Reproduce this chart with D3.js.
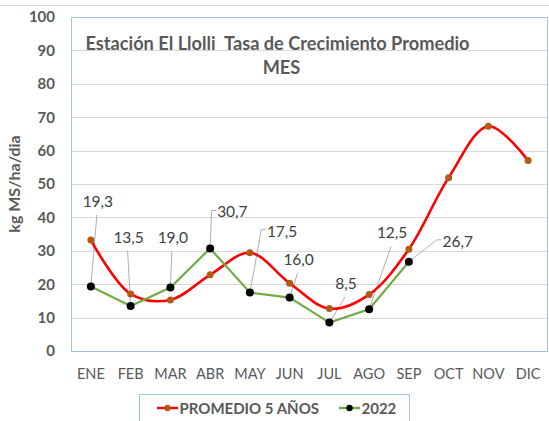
<!DOCTYPE html>
<html>
<head>
<meta charset="utf-8">
<script src="https://cdn.jsdelivr.net/npm/d3@7"></script>
<style>
  body { margin: 0; background: #fff; }
  svg text { font-family: Lato, "Open Sans", sans-serif; }
</style>
</head>
<body>
<div id="chart"></div>
<script>
// datos
var meses = ["ENE", "FEB", "MAR", "ABR", "MAY", "JUN", "JUL", "AGO", "SEP", "OCT", "NOV", "DIC"];
var promedio5 = [33.2, 17.1, 15.3, 22.8, 29.4, 20.3, 12.7, 16.9, 30.5, 51.9, 67.3, 57.0];
var serie2022 = [19.3, 13.5, 19.0, 30.7, 17.5, 16.0, 8.5, 12.5, 26.7];
var etiquetas2022 = ["19,3", "13,5", "19,0", "30,7", "17,5", "16,0", "8,5", "12,5", "26,7"];
var yTicks = [0, 10, 20, 30, 40, 50, 60, 70, 80, 90, 100];

// posicion de las etiquetas respecto al punto: [dx, dy, anclaje, codo]
// codo = true -> la guia llega por la izquierda del texto
var etqPos = [
    [7, -79.5, "middle", false],
    [-2, -63, "middle", false],
    [2.5, -44.5, "middle", false],
    [7, -31, "start", true],
    [17, -56, "start", true],
    [9, -32.6, "middle", false],
    [16.7, -33.6, "middle", false],
    [23, -71, "middle", false],
    [33.6, -15, "start", true]
];

var width = 549, height = 421;
var m = { left: 71, right: 1, top: 17, bottom: 70 };

var svg = d3.select("#chart").append("svg")
    .attr("width", width)
    .attr("height", height);

var x = d3.scaleBand().domain(meses).range([m.left, width - m.right]);
var y = d3.scaleLinear().domain([0, 100]).range([height - m.bottom, m.top]);
var cx = function(d, i) { return x(meses[i]) + x.bandwidth() / 2; };

// linea superior del contenedor
svg.append("line")
    .attr("x1", 0).attr("x2", width).attr("y1", 5.5).attr("y2", 5.5)
    .attr("stroke", "#d9d9d9").attr("stroke-width", 1);

// grilla
svg.append("g").selectAll("line")
    .data(yTicks.slice(1))
    .enter().append("line")
    .attr("x1", m.left).attr("x2", width - m.right)
    .attr("y1", function(d) { return Math.round(y(d)) + 0.5; })
    .attr("y2", function(d) { return Math.round(y(d)) + 0.5; })
    .attr("stroke", "#d9d9d9").attr("stroke-width", 1);

// borde del area de grafico
svg.append("rect")
    .attr("x", m.left + 0.5).attr("y", y(100) + 0.5)
    .attr("width", width - m.right - m.left - 1)
    .attr("height", y(0) - y(100))
    .attr("fill", "none").attr("stroke", "#9dc3e6").attr("stroke-width", 1);

// eje y
var yAxis = svg.append("g")
    .attr("transform", "translate(" + (m.left - 16) + ",0)")
    .call(d3.axisLeft(y).tickValues(yTicks).tickSize(0).tickPadding(0));
yAxis.select(".domain").remove();
yAxis.selectAll("text")
    .attr("font-family", "Lato, sans-serif")
    .attr("font-size", 15).attr("font-weight", "bold").attr("fill", "#595959");

// eje x
var xAxis = svg.append("g")
    .attr("transform", "translate(0," + y(0) + ")")
    .call(d3.axisBottom(x).tickSize(0).tickPadding(18));
xAxis.select(".domain").remove();
xAxis.selectAll("text")
    .attr("font-family", "Lato, sans-serif")
    .attr("font-size", 14.5).attr("fill", "#595959");

// titulo eje y
svg.append("text")
    .attr("transform", "translate(20," + y(50) + ") rotate(-90)")
    .attr("text-anchor", "middle")
    .attr("font-size", 16).attr("font-weight", "bold").attr("fill", "#595959")
    .text("kg MS/ha/dia");

// titulo
svg.append("text")
    .attr("x", 277.5).attr("y", 50)
    .attr("text-anchor", "middle")
    .attr("font-size", 18.2).attr("font-weight", "bold").attr("fill", "#595959")
    .attr("xml:space", "preserve")
    .text("Estación El Llolli  Tasa de Crecimiento Promedio");
svg.append("text")
    .attr("x", 281.5).attr("y", 74)
    .attr("text-anchor", "middle")
    .attr("font-size", 18.2).attr("font-weight", "bold").attr("fill", "#595959")
    .text("MES");

var lineaSuave = d3.line()
    .x(cx).y(function(d) { return y(d); })
    .curve(d3.curveCatmullRom.alpha(0.5));
var lineaRecta = d3.line()
    .x(cx).y(function(d) { return y(d); });

// lineas guia de etiquetas
var guias = svg.append("g");
serie2022.forEach(function(d, i) {
    var px = cx(d, i), py = y(d);
    var p = etqPos[i];
    var tx = px + p[0], ty = py + p[1];
    var pts;
    if (p[3]) {
        var ey = ty - 7;
        pts = [[px, py], [tx - 5.5, ey], [tx - 1, ey]];
        if (i === 3) pts = [[px, py], [px + 1.5, ey], [tx - 1, ey]];
    } else {
        pts = [[px, py], [tx - 1, ty + 8]];
    }
    guias.append("path")
        .attr("d", d3.line()(pts))
        .attr("fill", "none").attr("stroke", "#a6a6a6").attr("stroke-width", 0.9);
});

svg.append("path")
    .datum(promedio5)
    .attr("d", lineaSuave)
    .attr("fill", "none").attr("stroke", "#ff0000").attr("stroke-width", 2.6);

svg.append("path")
    .datum(serie2022)
    .attr("d", lineaRecta)
    .attr("fill", "none").attr("stroke", "#70ad47").attr("stroke-width", 2.2);

svg.append("g").selectAll("circle")
    .data(promedio5)
    .enter().append("circle")
    .attr("cx", cx).attr("cy", function(d) { return y(d); })
    .attr("r", 3.5).attr("fill", "#b25a16");

svg.append("g").selectAll("circle")
    .data(serie2022)
    .enter().append("circle")
    .attr("cx", cx).attr("cy", function(d) { return y(d); })
    .attr("r", 4).attr("fill", "#000");

// etiquetas de datos 2022
svg.append("g").selectAll("text")
    .data(serie2022)
    .enter().append("text")
    .attr("x", function(d, i) { return cx(d, i) + etqPos[i][0]; })
    .attr("y", function(d, i) { return y(d) + etqPos[i][1]; })
    .attr("text-anchor", function(d, i) { return etqPos[i][2]; })
    .attr("font-size", 15.5).attr("fill", "#404040")
    .text(function(d, i) { return etiquetas2022[i]; });

// leyenda
var leg = svg.append("g");
leg.append("rect")
    .attr("x", 139.5).attr("y", 394.5).attr("width", 270).attr("height", 40)
    .attr("fill", "#fff").attr("stroke", "#9dc3e6");
var items = [
    { nombre: "PROMEDIO 5 AÑOS", color: "#ff0000", marca: "#b25a16", x0: 157 },
    { nombre: "2022", color: "#70ad47", marca: "#000", x0: 339 }
];
items.forEach(function(it) {
    leg.append("line")
        .attr("x1", it.x0).attr("x2", it.x0 + 21).attr("y1", 408).attr("y2", 408)
        .attr("stroke", it.color).attr("stroke-width", 2.4);
    leg.append("circle")
        .attr("cx", it.x0 + 10.5).attr("cy", 408).attr("r", 3.2).attr("fill", it.marca);
    leg.append("text")
        .attr("x", it.x0 + 22.5).attr("y", 414)
        .attr("font-size", 15).attr("font-weight", "bold").attr("fill", "#595959")
        .text(it.nombre);
});
</script>
</body>
</html>
